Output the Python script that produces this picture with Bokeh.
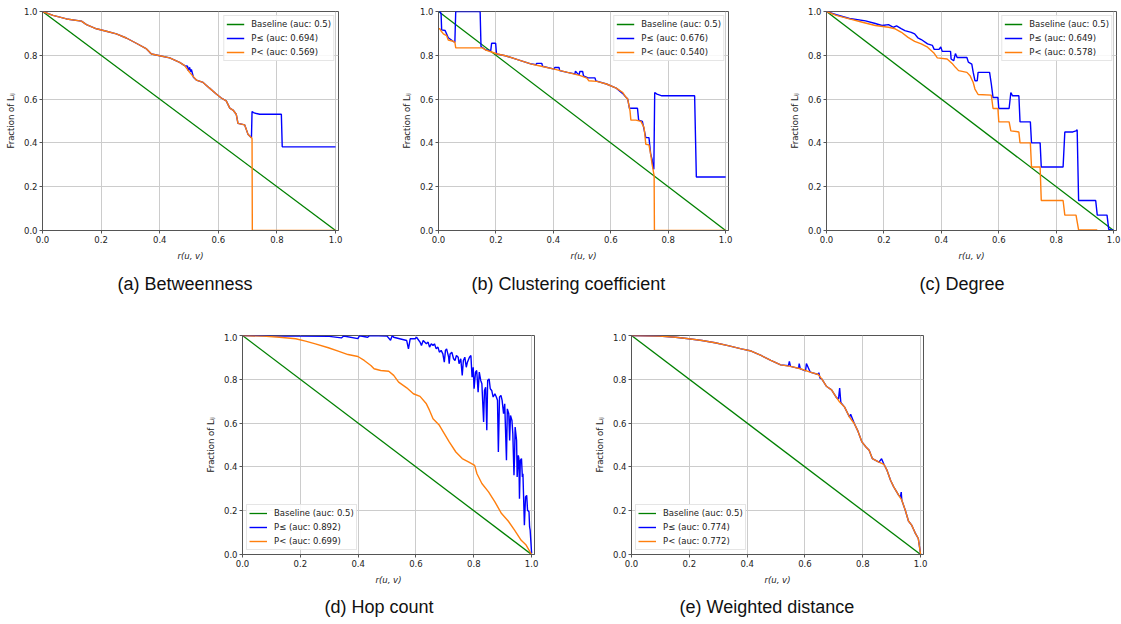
from bokeh.plotting import figure
from bokeh.layouts import column, row
from bokeh.models import Spacer, FixedTicker, PrintfTickFormatter, Range1d, Legend, LegendItem
from bokeh.embed import file_html
from bokeh.resources import INLINE

ticks = [0.0, 0.2, 0.4, 0.6, 0.8, 1.0]
base_x = [0.0, 1.0]
base_y = [1.0, 0.0]

titles = ["(a) Betweenness", "(b) Clustering coefficient", "(c) Degree",
          "(d) Hop count", "(e) Weighted distance"]
auc_le = ["0.694", "0.676", "0.649", "0.892", "0.774"]
auc_lt = ["0.569", "0.540", "0.578", "0.699", "0.772"]

# (a) Betweenness
a_le_x = [0.0, 0.036, 0.082, 0.133, 0.15, 0.184, 0.218, 0.252, 0.286, 0.32,
          0.355, 0.365, 0.368, 0.372, 0.4, 0.434, 0.468, 0.485, 0.495, 0.497,
          0.502, 0.505, 0.508, 0.515, 0.525, 0.548, 0.57, 0.593, 0.61, 0.627,
          0.639, 0.65, 0.661, 0.667, 0.69, 0.701, 0.713, 0.715, 0.72, 0.73,
          0.741, 0.815, 0.818, 1.0]
a_le_y = [1.0, 0.982, 0.966, 0.956, 0.94, 0.921, 0.91, 0.898, 0.879, 0.855,
          0.829, 0.815, 0.81, 0.806, 0.798, 0.788, 0.768, 0.753, 0.75, 0.73,
          0.745, 0.725, 0.735, 0.70, 0.687, 0.676, 0.65, 0.623, 0.605, 0.592,
          0.559, 0.55, 0.531, 0.489, 0.482, 0.44, 0.424, 0.543, 0.538, 0.534,
          0.531, 0.531, 0.382, 0.382]
a_lt_x = [0.0, 0.036, 0.082, 0.133, 0.15, 0.184, 0.218, 0.252, 0.286, 0.32,
          0.355, 0.372, 0.4, 0.434, 0.468, 0.485, 0.502, 0.525, 0.548, 0.57,
          0.593, 0.61, 0.627, 0.639, 0.65, 0.661, 0.667, 0.69, 0.701, 0.713,
          0.715, 0.716, 1.0]
a_lt_y = [1.0, 0.982, 0.966, 0.956, 0.94, 0.921, 0.91, 0.898, 0.879, 0.855,
          0.829, 0.806, 0.798, 0.788, 0.768, 0.753, 0.722, 0.687, 0.676, 0.65,
          0.623, 0.605, 0.592, 0.559, 0.55, 0.531, 0.489, 0.482, 0.44, 0.424,
          0.42, 0.0, 0.0]

# (b) Clustering coefficient
b_le_x = [0.0, 0.005, 0.009, 0.011, 0.023, 0.028, 0.034, 0.051, 0.057, 0.06,
          0.145, 0.148, 0.165, 0.182, 0.185, 0.199, 0.202, 0.233, 0.278, 0.324,
          0.34, 0.342, 0.36, 0.362, 0.403, 0.405, 0.42, 0.422, 0.449, 0.475,
          0.477, 0.485, 0.49, 0.492, 0.502, 0.505, 0.517, 0.52, 0.545, 0.548,
          0.585, 0.619, 0.642, 0.653, 0.659, 0.665, 0.693, 0.697, 0.71, 0.722,
          0.733, 0.739, 0.744, 0.747, 0.75, 0.753, 0.761, 0.778, 0.892, 0.898,
          1.0]
b_le_y = [1.0, 1.0, 0.99, 0.916, 0.913, 0.898, 0.88, 0.864, 0.86, 1.0,
          1.0, 0.84, 0.824, 0.821, 0.855, 0.855, 0.806, 0.798, 0.779, 0.76,
          0.757, 0.763, 0.763, 0.75, 0.737, 0.744, 0.744, 0.73, 0.722, 0.715,
          0.728, 0.715, 0.712, 0.726, 0.726, 0.706, 0.699, 0.697, 0.697, 0.683,
          0.669, 0.65, 0.625, 0.608, 0.6, 0.558, 0.558, 0.504, 0.498, 0.424,
          0.424, 0.348, 0.325, 0.287, 0.28, 0.63, 0.623, 0.615, 0.615, 0.244,
          0.244]
b_lt_x = [0.0, 0.005, 0.009, 0.017, 0.028, 0.034, 0.051, 0.057, 0.06, 0.153,
          0.165, 0.1875, 0.205, 0.233, 0.278, 0.324, 0.358, 0.403, 0.449, 0.494,
          0.517, 0.523, 0.551, 0.585, 0.619, 0.642, 0.653, 0.659, 0.667, 0.67,
          0.6875, 0.705, 0.716, 0.722, 0.733, 0.739, 0.744, 0.751, 0.752, 1.0]
b_lt_y = [0.921, 0.921, 0.911, 0.898, 0.89, 0.87, 0.864, 0.86, 0.834, 0.834,
          0.824, 0.814, 0.806, 0.798, 0.779, 0.76, 0.75, 0.737, 0.722, 0.707,
          0.696, 0.684, 0.681, 0.669, 0.65, 0.63, 0.608, 0.6, 0.546, 0.504,
          0.504, 0.498, 0.47, 0.394, 0.391, 0.348, 0.302, 0.25, 0.0, 0.0]

# (c) Degree
c_le_x = [0.0, 0.034, 0.08, 0.136, 0.17, 0.193, 0.216, 0.233, 0.244, 0.26,
          0.273, 0.295, 0.307, 0.318, 0.33, 0.352, 0.369, 0.375, 0.392, 0.398,
          0.403, 0.432, 0.434, 0.443, 0.449, 0.455, 0.466, 0.489, 0.494, 0.506,
          0.511, 0.517, 0.525, 0.528, 0.568, 0.574, 0.58, 0.597, 0.6, 0.636,
          0.642, 0.648, 0.67, 0.674, 0.71, 0.714, 0.744, 0.748, 0.824, 0.83,
          0.858, 0.869, 0.873, 0.878, 0.9375, 0.943, 0.977, 0.983, 1.0]
c_le_y = [1.0, 0.985, 0.968, 0.957, 0.945, 0.936, 0.94, 0.928, 0.934, 0.922,
          0.913, 0.905, 0.898, 0.88, 0.872, 0.852, 0.845, 0.827, 0.827, 0.838,
          0.818, 0.818, 0.783, 0.775, 0.808, 0.79, 0.79, 0.79, 0.769, 0.76,
          0.722, 0.684, 0.684, 0.722, 0.722, 0.669, 0.607, 0.607, 0.557, 0.557,
          0.63, 0.615, 0.615, 0.496, 0.496, 0.4, 0.4, 0.29, 0.29, 0.45,
          0.45, 0.455, 0.46, 0.137, 0.137, 0.07, 0.07, 0.005, 0.0]
c_lt_x = [0.0, 0.034, 0.08, 0.125, 0.17, 0.216, 0.239, 0.261, 0.284, 0.307,
          0.33, 0.352, 0.375, 0.386, 0.42, 0.4375, 0.449, 0.46, 0.489, 0.5,
          0.511, 0.517, 0.528, 0.574, 0.58, 0.597, 0.6, 0.636, 0.642, 0.67,
          0.674, 0.71, 0.714, 0.744, 0.748, 0.824, 0.83, 0.869, 0.878, 0.943]
c_lt_y = [1.0, 0.982, 0.966, 0.951, 0.936, 0.928, 0.921, 0.905, 0.882, 0.864,
          0.852, 0.837, 0.809, 0.788, 0.783, 0.763, 0.745, 0.73, 0.722, 0.707,
          0.676, 0.646, 0.621, 0.618, 0.557, 0.557, 0.496, 0.496, 0.455, 0.45,
          0.4, 0.4, 0.29, 0.29, 0.137, 0.137, 0.07, 0.07, 0.003, 0.003]

# (d) Hop count
d_le_x = [0.0, 0.1, 0.2, 0.3, 0.342, 0.35, 0.399, 0.405, 0.433, 0.44,
          0.5, 0.512, 0.518,
          0.523, 0.568, 0.574, 0.58, 0.597, 0.602, 0.614, 0.619, 0.625, 0.636,
          0.642, 0.647, 0.653, 0.659, 0.664, 0.67, 0.676, 0.681, 0.687, 0.693,
          0.698, 0.702, 0.706, 0.713, 0.715, 0.718, 0.724, 0.73, 0.735, 0.74,
          0.746, 0.749, 0.755, 0.76, 0.764, 0.769, 0.774, 0.778, 0.785, 0.79,
          0.794, 0.798, 0.801, 0.806, 0.81, 0.815, 0.819, 0.824, 0.828, 0.834,
          0.837, 0.841, 0.845, 0.848, 0.853, 0.857, 0.862, 0.867, 0.873, 0.878,
          0.882, 0.885, 0.889, 0.894, 0.898, 0.903, 0.907, 0.913, 0.916, 0.921,
          0.924, 0.927, 0.932, 0.935, 0.939, 0.941, 0.943, 0.948, 0.95, 0.954,
          0.956, 0.958, 0.961, 0.965, 0.968, 0.97, 0.975, 0.979, 0.983, 0.986,
          0.991, 0.993, 0.995, 1.0]
d_le_y = [1.0, 0.998, 0.997, 0.996, 0.989, 0.998, 0.986, 0.999, 0.992, 1.0,
          0.997, 0.978, 1.0,
          0.992, 0.977, 0.939, 0.985, 0.985, 0.992, 0.97, 0.954, 0.977, 0.962,
          0.97, 0.947, 0.962, 0.954, 0.962, 0.939, 0.947, 0.924, 0.932, 0.916,
          0.878, 0.932, 0.939, 0.901, 0.871, 0.916, 0.924, 0.894, 0.886, 0.909,
          0.901, 0.871, 0.894, 0.818, 0.886, 0.901, 0.855, 0.878, 0.901, 0.909,
          0.81, 0.855, 0.757, 0.833, 0.84, 0.741, 0.833, 0.795, 0.78, 0.605,
          0.749, 0.764, 0.567, 0.795, 0.802, 0.757, 0.749, 0.719, 0.734, 0.719,
          0.704, 0.468, 0.719, 0.726, 0.704, 0.643, 0.688, 0.43, 0.665, 0.643,
          0.521, 0.635, 0.612, 0.552, 0.362, 0.445, 0.582, 0.521, 0.354, 0.453,
          0.438, 0.255, 0.43, 0.438, 0.354, 0.369, 0.134, 0.263, 0.27, 0.202,
          0.195, 0.126, 0.111, 0.005]
d_lt_x = [0.0, 0.071, 0.128, 0.184, 0.218, 0.252, 0.297, 0.331, 0.365, 0.399,
          0.421, 0.444, 0.455, 0.478, 0.506, 0.523, 0.54, 0.568, 0.591, 0.614,
          0.636, 0.647, 0.659, 0.681, 0.698, 0.715, 0.738, 0.76, 0.783, 0.803,
          0.811, 0.828, 0.851, 0.873, 0.896, 0.919, 0.941, 0.964, 0.981, 1.0]
d_lt_y = [1.0, 0.997, 0.992, 0.985, 0.974, 0.962, 0.944, 0.929, 0.913, 0.904,
          0.886, 0.863, 0.848, 0.84, 0.837, 0.818, 0.787, 0.761, 0.734, 0.722,
          0.688, 0.658, 0.62, 0.59, 0.552, 0.514, 0.468, 0.438, 0.422, 0.407,
          0.369, 0.324, 0.286, 0.24, 0.187, 0.153, 0.111, 0.065, 0.043, 0.0]

# (e) Weighted distance
e_le_x = [0.0, 0.096, 0.153, 0.198, 0.244, 0.289, 0.334, 0.38, 0.414, 0.448,
          0.482, 0.516, 0.543, 0.546, 0.55, 0.578, 0.58, 0.584, 0.602, 0.605,
          0.618, 0.646, 0.648, 0.652, 0.658, 0.675, 0.692, 0.709, 0.716, 0.72,
          0.724, 0.737, 0.754, 0.758, 0.771, 0.782, 0.797, 0.811, 0.822, 0.833,
          0.856, 0.865, 0.873, 0.884, 0.896, 0.907, 0.924, 0.93, 0.933, 0.935,
          0.947, 0.958, 0.969, 0.981, 0.992, 1.0]
e_le_y = [1.0, 0.997, 0.992, 0.985, 0.977, 0.967, 0.954, 0.939, 0.929, 0.909,
          0.886, 0.866, 0.862, 0.882, 0.859, 0.85, 0.872, 0.848, 0.838, 0.872,
          0.833, 0.822, 0.83, 0.805, 0.802, 0.767, 0.752, 0.716, 0.71, 0.76,
          0.694, 0.673, 0.628, 0.64, 0.597, 0.567, 0.514, 0.491, 0.476, 0.438,
          0.422, 0.437, 0.412, 0.384, 0.339, 0.309, 0.271, 0.262, 0.285, 0.248,
          0.202, 0.153, 0.134, 0.099, 0.073, 0.0]
e_lt_x = [0.0, 0.096, 0.153, 0.198, 0.244, 0.289, 0.334, 0.38, 0.414, 0.448,
          0.482, 0.516, 0.55, 0.584, 0.618, 0.646, 0.658, 0.675, 0.692, 0.709,
          0.72, 0.737, 0.754, 0.771, 0.782, 0.797, 0.811, 0.822, 0.833, 0.856,
          0.873, 0.884, 0.896, 0.907, 0.924, 0.935, 0.947, 0.958, 0.969, 0.981,
          0.992, 1.0]
e_lt_y = [1.0, 0.997, 0.992, 0.985, 0.977, 0.967, 0.954, 0.939, 0.929, 0.909,
          0.886, 0.866, 0.859, 0.848, 0.833, 0.822, 0.802, 0.767, 0.752, 0.716,
          0.696, 0.673, 0.628, 0.597, 0.567, 0.514, 0.491, 0.476, 0.438, 0.422,
          0.412, 0.384, 0.339, 0.309, 0.271, 0.248, 0.202, 0.153, 0.134, 0.099,
          0.073, 0.0]

FONT = "DejaVu Sans"
SMALL = "8.5px"
GREEN, BLUE, ORANGE = "#008000", "#0000ff", "#ff7f0e"


def make_panel(idx, le_x, le_y, lt_x, lt_y, width, height, bl, br, bt, bb,
               legend_loc, title_offset, title_standoff):
    p = figure(width=width, height=height, x_range=Range1d(0, 1.01),
               y_range=Range1d(0, 1.0), output_backend="svg",
               toolbar_location=None, title=titles[idx], title_location="below",
               min_border_left=bl, min_border_right=br, min_border_top=bt,
               min_border_bottom=bb)
    p.title.align = "left"
    p.title.text_font = "Liberation Sans"
    p.title.text_font_size = "18px"
    p.title.text_font_style = "normal"
    p.title.text_color = "#111111"
    p.title.offset = title_offset
    p.title.standoff = title_standoff

    r0 = p.line(base_x, base_y, line_color=GREEN, line_width=1.3)
    r1 = p.line(le_x, le_y, line_color=BLUE, line_width=1.4)
    r2 = p.line(lt_x, lt_y, line_color=ORANGE, line_width=1.4)

    leg = Legend(items=[
        LegendItem(label="Baseline (auc: 0.5)", renderers=[r0]),
        LegendItem(label="P\u2264 (auc: " + auc_le[idx] + ")", renderers=[r1]),
        LegendItem(label="P< (auc: " + auc_lt[idx] + ")", renderers=[r2]),
    ], location=legend_loc)
    leg.label_text_font = FONT
    leg.label_text_font_size = SMALL
    leg.label_text_color = "#222222"
    leg.glyph_width = 18
    leg.glyph_height = 12
    leg.label_height = 12
    leg.label_standoff = 7
    leg.spacing = 2
    leg.padding = 2
    leg.margin = 4
    leg.border_line_color = "#cccccc"
    leg.border_line_width = 1
    leg.background_fill_alpha = 0.85
    p.add_layout(leg)

    p.xaxis.axis_label = "r(u, v)"
    p.xaxis.axis_label_text_font_style = "italic"
    p.yaxis.axis_label = "Fraction of L\u1d62\u2c7c"
    p.yaxis.axis_label_text_font_style = "normal"
    for ax in (p.xaxis[0], p.yaxis[0]):
        ax.ticker = FixedTicker(ticks=ticks)
        ax.formatter = PrintfTickFormatter(format="%.1f")
        ax.major_label_text_font = FONT
        ax.major_label_text_font_size = SMALL
        ax.major_label_text_color = "#222222"
        ax.axis_label_text_font = FONT
        ax.axis_label_text_font_size = SMALL
        ax.axis_label_text_color = "#222222"
        ax.axis_label_standoff = 5
        ax.major_label_standoff = 2
        ax.major_tick_out = 3
        ax.major_tick_in = 0
        ax.minor_tick_out = 0
        ax.minor_tick_in = 0
        ax.axis_line_color = "#555555"
        ax.major_tick_line_color = "#555555"
    p.grid.grid_line_color = "#cccccc"
    p.grid.grid_line_width = 1
    p.outline_line_color = "#555555"
    p.outline_line_width = 1
    p.background_fill_color = "white"
    return p


pa = make_panel(0, a_le_x, a_le_y, a_lt_x, a_lt_y, 398, 333, 42, 60, 11, 103, "top_right", 75, 17)
pb = make_panel(1, b_le_x, b_le_y, b_lt_x, b_lt_y, 388, 333, 34, 58, 11, 103, "top_right", 33, 17)
pc = make_panel(2, c_le_x, c_le_y, c_lt_x, c_lt_y, 335, 333, 34, 5, 11, 103, "top_right", 93, 17)
pd = make_panel(3, d_le_x, d_le_y, d_lt_x, d_lt_y, 389, 291, 34, 57, 2, 70, "bottom_left", 82, 15)
pe = make_panel(4, e_le_x, e_le_y, e_lt_x, e_lt_y, 362, 291, 34, 30, 2, 70, "bottom_left", 48, 15)

layout = column(row(pa, pb, pc), row(Spacer(width=202, height=291), pd, pe))

open("out.html", "w").write(file_html(layout, INLINE))
